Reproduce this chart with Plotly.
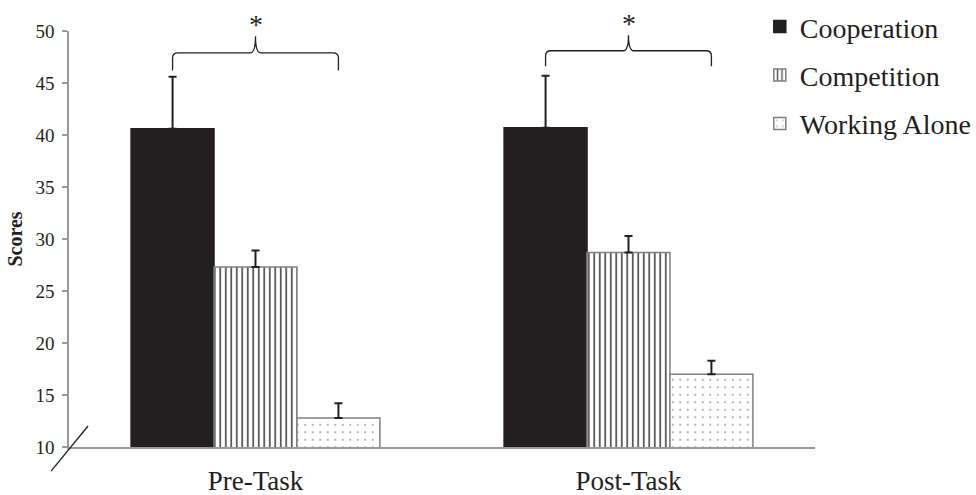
import plotly.graph_objects as go

# ---- data ----
conditions = ["Pre-Task", "Post-Task"]
groups = ["Cooperation", "Competition", "Working Alone"]
means = {
    "Cooperation": [40.6, 40.7],
    "Competition": [27.3, 28.7],
    "Working Alone": [12.8, 17.0],
}
err_upper = {
    "Cooperation": [5.0, 5.0],
    "Competition": [1.6, 1.6],
    "Working Alone": [1.4, 1.3],
}
y_ticks = [10, 15, 20, 25, 30, 35, 40, 45, 50]
sig_labels = ["*", "*"]
brace_bottom = [46.2, 46.6]
brace_mid = [47.9, 48.1]
brace_tip = [49.5, 49.6]

# ---- styling ----
FONT = "Liberation Serif"
bargap = 0.333
xpos = list(range(len(conditions)))
fills = {"Cooperation": "#231f20", "Competition": "white", "Working Alone": "white"}
patterns = {
    "Cooperation": dict(shape=""),
    "Competition": dict(shape="|", size=5.5, solidity=0.32, fgcolor="#555555", bgcolor="white", fillmode="replace"),
    "Working Alone": dict(shape=".", size=7.5, solidity=0.04, fgcolor="#888888", bgcolor="white", fillmode="replace"),
}
lines = {"Cooperation": "#231f20", "Competition": "#808080", "Working Alone": "#808080"}

fig = go.Figure()
for i, g in enumerate(groups):
    fig.add_trace(go.Bar(
        x=xpos, y=means[g], name=g, legendgroup=g,
        marker=dict(color=fills[g], line=dict(color=lines[g], width=1.5), pattern=patterns[g]),
        error_y=dict(type="data", array=err_upper[g], arrayminus=[0] * len(xpos), symmetric=False,
                     color="#231f20", thickness=2, width=4),
    ))

# significance braces (from Cooperation bar centre to Working Alone bar centre)
bw = (1 - bargap) / len(groups)
rx, ry = 0.014, 0.5
for k, xc in enumerate(xpos):
    xl, xr = xc - bw, xc + bw
    yb, yh, yt = brace_bottom[k], brace_mid[k], brace_tip[k]
    path = (f"M {xl},{yb} L {xl},{yh - ry} Q {xl},{yh} {xl + rx},{yh} "
            f"L {xc - rx},{yh} Q {xc},{yh} {xc},{yt} Q {xc},{yh} {xc + rx},{yh} "
            f"L {xr - rx},{yh} Q {xr},{yh} {xr},{yh - ry} L {xr},{yb}")
    fig.add_shape(type="path", path=path, xref="x", yref="y",
                  line=dict(color="#231f20", width=1.3))
    fig.add_annotation(x=xc, y=yt, xref="x", yref="y", text=sig_labels[k], showarrow=False,
                       yanchor="bottom", yshift=-6, font=dict(family=FONT, size=28, color="#231f20"))

# axis break mark
fig.add_shape(type="line", xref="paper", yref="paper", x0=-0.024, y0=-0.058, x1=0.0255, y1=0.0505,
              line=dict(color="#231f20", width=1.3))

fig.update_layout(
    width=976, height=495,
    margin=dict(l=69, r=161, t=31, b=48, autoexpand=False),
    paper_bgcolor="white", plot_bgcolor="white",
    barmode="group", bargap=bargap, bargroupgap=0,
    font=dict(family=FONT, color="#231f20"),
    showlegend=True,
    legend=dict(x=0.926, y=1.07, xanchor="left", yanchor="top", bgcolor="rgba(0,0,0,0)",
                font=dict(family=FONT, size=28, color="#231f20"), tracegroupgap=9,
                itemclick=False),
    xaxis=dict(range=[-0.5, 1.5], tickvals=xpos, ticktext=conditions, showline=True,
               linecolor="#999999", linewidth=2, ticks="", showgrid=False, zeroline=False,
               automargin=False, ticklabelstandoff=9,
               tickfont=dict(family=FONT, size=27, color="#231f20")),
    yaxis=dict(range=[10, 50], tickvals=y_ticks, showline=True, linecolor="#999999", linewidth=1.5,
               ticks="outside", ticklen=5, tickcolor="#999999", tickwidth=1.5, showgrid=False,
               zeroline=False, automargin=False, ticklabelstandoff=4,
               tickfont=dict(family=FONT, size=19, color="#231f20"),
               title=dict(text="<b>Scores</b>", font=dict(family=FONT, size=20, color="#231f20"), standoff=7)),
)

fig.write_html("out.html", config={"displayModeBar": False},
               post_script="document.body.style.margin='0';")
